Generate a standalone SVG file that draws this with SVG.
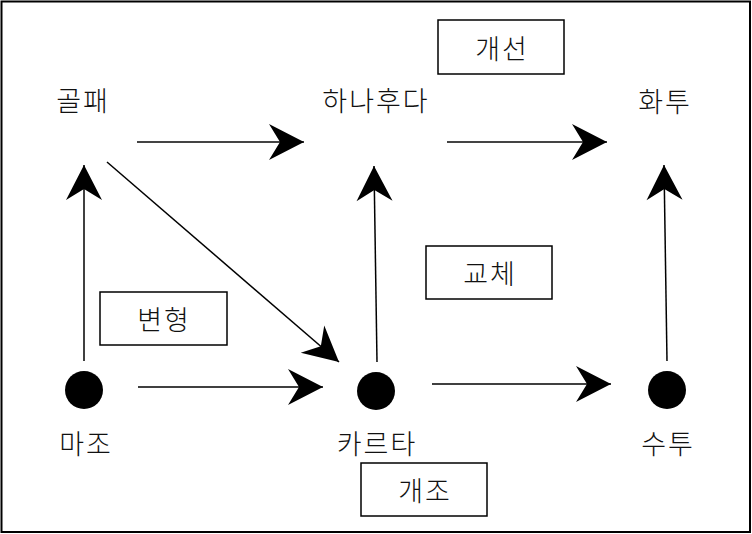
<svg xmlns="http://www.w3.org/2000/svg" width="752" height="534" viewBox="0 0 752 534">
<style>
text{font-family:"Noto Sans CJK KR","Noto Sans",sans-serif;font-size:27px;font-weight:300;letter-spacing:2px;fill:#111;text-anchor:middle;dominant-baseline:central}
.box{fill:#fff;stroke:#000;stroke-width:1.5}
.c{fill:none;stroke:#000;stroke-width:1.5}
.h{fill:none;stroke:#444;stroke-width:2.2}
</style>
<defs>
<marker id="ah" markerUnits="userSpaceOnUse" viewBox="-36 -19 37 38" markerWidth="37" markerHeight="38" refX="0" refY="0" orient="auto">
<path d="M0,0 L-35,-18 L-24,0 L-35,18 Z" fill="#000"/>
</marker>
</defs>
<rect x="1.5" y="1.5" width="748.5" height="530.5" fill="#fff" stroke="#000" stroke-width="2"/>
<g id="connectors">
<line class="h" x1="137" y1="142" x2="304" y2="142" marker-end="url(#ah)"/>
<line class="h" x1="447" y1="142" x2="607" y2="142" marker-end="url(#ah)"/>
<line class="c" x1="84" y1="361" x2="84" y2="165" marker-end="url(#ah)"/>
<line class="c" x1="377" y1="362" x2="374" y2="166" marker-end="url(#ah)"/>
<line class="c" x1="667" y1="361" x2="664" y2="165" marker-end="url(#ah)"/>
<line class="c" x1="107" y1="162" x2="339" y2="362" marker-end="url(#ah)"/>
<line class="c" x1="138" y1="387" x2="323" y2="387" marker-end="url(#ah)"/>
<line class="c" x1="432" y1="384" x2="611" y2="384" marker-end="url(#ah)"/>
</g>
<g id="n-golpae"><text x="83" y="99">골패</text></g>
<g id="n-hanafuda"><text x="376" y="99">하나후다</text></g>
<g id="n-hwatu"><text x="665" y="100">화투</text></g>
<g id="n-majo"><circle cx="84" cy="390" r="19"/><text x="86" y="442">마조</text></g>
<g id="n-karuta"><circle cx="376" cy="391" r="19"/><text x="377" y="442">카르타</text></g>
<g id="n-sutu"><circle cx="667" cy="390" r="19"/><text x="668" y="442">수투</text></g>
<g id="l-gaeseon"><rect class="box" x="438" y="20" width="126" height="54"/><text x="502" y="47">개선</text></g>
<g id="l-gyoche"><rect class="box" x="426" y="246" width="126" height="53"/><text x="490" y="272">교체</text></g>
<g id="l-byeonhyeong"><rect class="box" x="100" y="292" width="127" height="53"/><text x="164" y="318">변형</text></g>
<g id="l-gaejo"><rect class="box" x="361" y="463" width="126" height="53"/><text x="425" y="489">개조</text></g>
</svg>
